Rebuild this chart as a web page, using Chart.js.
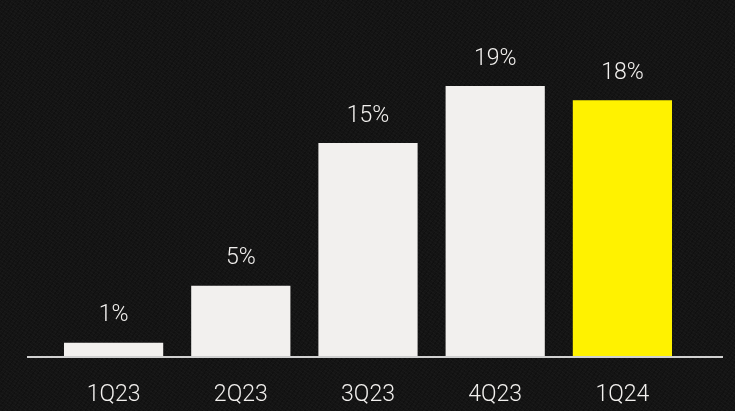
<!DOCTYPE html>
<html>
<head>
<meta charset="utf-8">
<script src="https://cdn.jsdelivr.net/npm/chart.js@4.4.1/dist/chart.umd.min.js"></script>
<style>
  html, body { margin: 0; padding: 0; }
  body {
    width: 735px; height: 411px; overflow: hidden;
    background-color: #141414;
    background-image:
      repeating-linear-gradient(35deg, rgba(255,255,255,0.018) 0 1px, transparent 1px 3px),
      repeating-linear-gradient(-55deg, rgba(0,0,0,0.2) 0 1px, transparent 1px 4px);
  }
  canvas { display: block; }
</style>
</head>
<body>
<canvas id="myChart" width="735" height="411"></canvas>
<script>
'use strict';
let quarters = ['1Q23', '2Q23', '3Q23', '4Q23', '1Q24'];
let growth = [1, 5, 15, 19, 18];
let barColors = ['#f2f0ee', '#f2f0ee', '#f2f0ee', '#f2f0ee', '#fff200'];

let fontFamily = "Roboto, 'Noto Sans', sans-serif";

// baseline + % labels over the bars
let barExtras = {
  id: 'barExtras',
  afterDatasetsDraw(chart) {
    let ctx = chart.ctx;
    let y0 = chart.scales.y.getPixelForValue(0);
    ctx.save();
    ctx.strokeStyle = '#d0d0d0';
    ctx.lineWidth = 2;
    ctx.beginPath();
    ctx.moveTo(27, y0);
    ctx.lineTo(723, y0);
    ctx.stroke();

    ctx.fillStyle = '#f2f0ee';
    ctx.font = '300 23px ' + fontFamily;
    ctx.textAlign = 'center';
    ctx.textBaseline = 'middle';
    let meta = chart.getDatasetMeta(0);
    meta.data.forEach(function (bar, i) {
      ctx.fillText(growth[i] + '%', bar.x, bar.y - 27);
    });
    ctx.restore();
  }
};

let ctx = document.getElementById('myChart').getContext('2d');
let myChart = new Chart(ctx, {
  type: 'bar',
  data: {
    labels: quarters,
    datasets: [{
      data: growth,
      backgroundColor: barColors,
      borderWidth: 0,
      barPercentage: 1,
      categoryPercentage: 0.78
    }]
  },
  options: {
    responsive: false,
    animation: false,
    devicePixelRatio: 1,
    layout: { padding: { left: 50, right: 49, top: 29, bottom: 0 } },
    plugins: { legend: { display: false }, tooltip: { enabled: false } },
    scales: {
      x: {
        grid: { display: false, drawTicks: false },
        border: { display: false },
        ticks: {
          color: '#f2f0ee',
          font: { family: fontFamily, size: 23, weight: 300 },
          padding: 24,
          maxRotation: 0,
          autoSkip: false
        },
        afterFit(scale) { scale.height = 54; }
      },
      y: {
        display: false,
        min: 0,
        max: 23
      }
    }
  },
  plugins: [barExtras]
});
</script>
</body>
</html>
